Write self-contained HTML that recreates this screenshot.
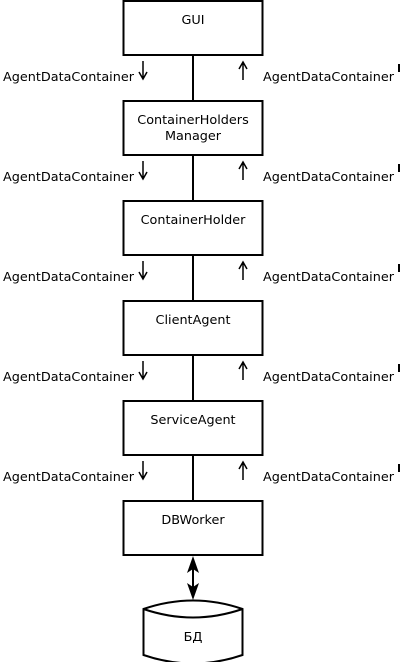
<!DOCTYPE html><html><head><style>body{margin:0;background:#fff}</style></head><body>
<svg width="402" height="662" xmlns="http://www.w3.org/2000/svg" font-family="'DejaVu Sans', sans-serif" font-size="12.8">
<g stroke="#000" stroke-width="2" fill="none">
<rect x="123.5" y="1" width="139" height="54"/>
<rect x="123.5" y="101" width="139" height="54"/>
<rect x="123.5" y="201" width="139" height="54"/>
<rect x="123.5" y="301" width="139" height="54"/>
<rect x="123.5" y="401" width="139" height="54"/>
<rect x="123.5" y="501" width="139" height="54"/>
<path d="M193 55V101M193 155V201M193 255V301M193 355V401M193 455V501"/>
<path d="M193 565V592"/>
</g>
<g stroke="#000" stroke-width="1.5" fill="none">
<path d="M143 61v18M139 72l4 7 4-7M243 80v-18M239 69l4-7 4 7"/>
<path d="M143 161v18M139 172l4 7 4-7M243 180v-18M239 169l4-7 4 7"/>
<path d="M143 261v18M139 272l4 7 4-7M243 280v-18M239 269l4-7 4 7"/>
<path d="M143 361v18M139 372l4 7 4-7M243 380v-18M239 369l4-7 4 7"/>
<path d="M143 461v18M139 472l4 7 4-7M243 480v-18M239 469l4-7 4 7"/>
</g>
<g stroke="#000" stroke-width="2">
<path d="M399 64v8M399 164v8M399 264v8M399 364v8M399 464v8"/>
</g>
<path d="M193 556l-6 17 6-4 6 4z M193 600l-6-17 6 4 6-4z" fill="#000"/>
<path d="M143.5 609Q193 592 242.5 609V655Q193 672 143.5 655Z M143.5 609Q193 626 242.5 609" stroke="#000" stroke-width="2" fill="#fff"/>
<g fill="#000">
<text x="193" y="24" text-anchor="middle">GUI</text>
<text x="193" y="124" text-anchor="middle">ContainerHolders</text>
<text x="193" y="140" text-anchor="middle">Manager</text>
<text x="193" y="224" text-anchor="middle">ContainerHolder</text>
<text x="193" y="324" text-anchor="middle">ClientAgent</text>
<text x="193" y="424" text-anchor="middle">ServiceAgent</text>
<text x="193" y="524" text-anchor="middle">DBWorker</text>
<text x="193" y="641" text-anchor="middle">БД</text>
<text x="3" y="81">AgentDataContainer</text><text x="263" y="81">AgentDataContainer</text>
<text x="3" y="181">AgentDataContainer</text><text x="263" y="181">AgentDataContainer</text>
<text x="3" y="281">AgentDataContainer</text><text x="263" y="281">AgentDataContainer</text>
<text x="3" y="381">AgentDataContainer</text><text x="263" y="381">AgentDataContainer</text>
<text x="3" y="481">AgentDataContainer</text><text x="263" y="481">AgentDataContainer</text>
</g>
</svg></body></html>
